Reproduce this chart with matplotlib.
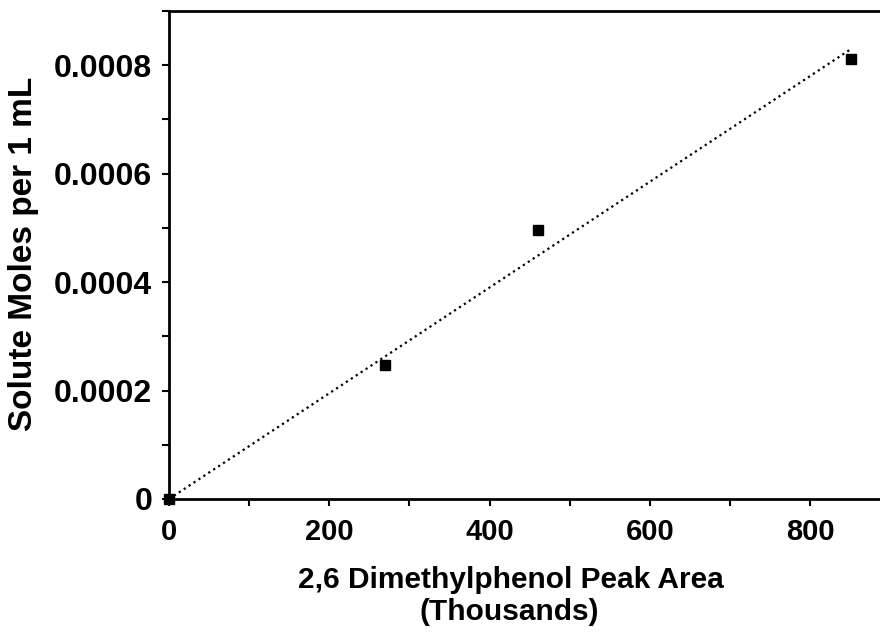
import matplotlib
matplotlib.use("Agg")
import matplotlib.pyplot as plt
from matplotlib.ticker import MultipleLocator

# peak area (thousands) vs solute moles per 1 mL
peak_area = [0, 270, 460, 851]
moles = [0, 0.000247, 0.000496, 0.000811]

# fitted line end points
fit_x = [0, 851]
fit_y = [0, 0.00083]

x_ticks = [0, 200, 400, 600, 800]
y_ticks = [0, 0.0002, 0.0004, 0.0006, 0.0008]
y_ticklabels = ["0", "0.0002", "0.0004", "0.0006", "0.0008"]

plt.rcParams["font.family"] = ["Liberation Sans", "DejaVu Sans"]
plt.rcParams["font.weight"] = "bold"

fig = plt.figure(figsize=(8.8, 6.4), dpi=100)
ax = fig.add_axes([169 / 880, 1 - 499 / 640, 1 - 169 / 880, (499 - 11) / 640])

ax.plot(fit_x, fit_y, linestyle=":", color="black", linewidth=1.6)
ax.plot(peak_area, moles, linestyle="none", marker="s", markersize=7,
        color="black", clip_on=False, zorder=5)

ax.set_xlim(0, 887)
ax.set_ylim(0, 0.0009)
ax.set_xticks(x_ticks)
ax.set_yticks(y_ticks)
ax.set_yticklabels(y_ticklabels)
ax.xaxis.set_minor_locator(MultipleLocator(100))
ax.yaxis.set_minor_locator(MultipleLocator(0.0001))

ax.tick_params(axis="both", which="both", direction="out", length=5, width=1.5)
ax.tick_params(axis="y", pad=7, labelsize=23)
ax.tick_params(axis="x", pad=9, labelsize=21)
for lbl in ax.get_xticklabels() + ax.get_yticklabels():
    lbl.set_fontweight("bold")

ax.spines["right"].set_visible(False)
for s in ["left", "bottom", "top"]:
    ax.spines[s].set_linewidth(2)

fig.text(511 / 880, 1 - 580 / 640, "2,6 Dimethylphenol Peak Area",
         ha="center", va="center", fontsize=21.5, fontweight="bold")
fig.text(509 / 880, 1 - 612 / 640, "(Thousands)",
         ha="center", va="center", fontsize=21.5, fontweight="bold")
fig.text(24 / 880, 1 - 254 / 640, "Solute Moles per 1 mL", rotation=90,
         ha="center", va="center", fontsize=24, fontweight="bold")

fig.savefig("out.png", dpi=100)
